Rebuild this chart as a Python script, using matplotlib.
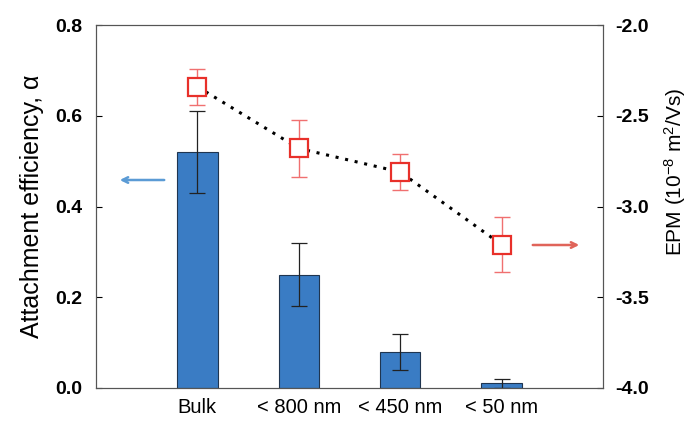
import numpy as np
import matplotlib.pyplot as plt

plt.rcParams['font.family'] = ['Liberation Sans', 'DejaVu Sans']
plt.rcParams['mathtext.fontset'] = 'custom'
plt.rcParams['mathtext.rm'] = 'Liberation Sans'
plt.rcParams['mathtext.it'] = 'Liberation Sans:italic'

categories = ['Bulk', '< 800 nm', '< 450 nm', '< 50 nm']
alpha_vals = [0.52, 0.25, 0.08, 0.01]
alpha_err = [0.09, 0.07, 0.04, 0.01]
epm_vals = [-2.34, -2.68, -2.81, -3.21]
epm_err = [0.10, 0.155, 0.10, 0.15]
left_ticks = [0.0, 0.2, 0.4, 0.6, 0.8]
right_ticks = [-4.0, -3.5, -3.0, -2.5, -2.0]

fig = plt.figure(figsize=(6.88, 4.21), dpi=100)
ax = fig.add_axes([96 / 688, 1 - 388 / 421, (603 - 96) / 688, (388 - 25) / 421])
x = np.arange(len(categories))

ax.bar(x, alpha_vals, width=0.4, color='#3a7cc4', edgecolor='#1f3550', linewidth=0.8,
       yerr=alpha_err, error_kw=dict(ecolor='#222222', elinewidth=0.9, capsize=6, capthick=0.9),
       zorder=2)
ax.set_xlim(-1, 4)
ax.set_ylim(0, 0.8)
ax.set_yticks(left_ticks)
ax.set_yticklabels([f'{t:.1f}' for t in left_ticks], fontweight='bold', fontsize=14)
ax.set_xticks(x)
ax.set_xticklabels(categories, fontsize=14.5)
ax.tick_params(axis='x', length=0, pad=7)
ax.tick_params(axis='y', direction='in', length=4, pad=10)
ax.set_ylabel('Attachment efficiency, α', fontsize=18, labelpad=8)
for s in ax.spines.values():
    s.set_color('#555555')
    s.set_linewidth(0.8)

ax2 = ax.twinx()
ax2.errorbar(x, epm_vals, yerr=epm_err, fmt='none', ecolor='#f07070', elinewidth=1.0,
             capsize=6, capthick=1.0, zorder=3)
ax2.plot(x, epm_vals, linestyle=(0, (1, 2.2)), color='black', linewidth=2.2, zorder=3)
ax2.plot(x, epm_vals, linestyle='none', marker='s', markersize=12.5, markerfacecolor='white',
         markeredgecolor='#e8302a', markeredgewidth=1.6, zorder=4)
ax2.set_ylim(-4.0, -2.0)
ax2.set_yticks(right_ticks)
ax2.set_yticklabels([f'{t:.1f}' for t in right_ticks], fontweight='bold', fontsize=14)
ax2.tick_params(axis='y', direction='in', length=4, pad=9)
ax2.set_ylabel('EPM (10$^{\\mathrm{-8}}$ m$^{\\mathrm{2}}$/Vs)', fontsize=15)
ax2.yaxis.set_label_coords(1.116, 0.595)
for s in ax2.spines.values():
    s.set_color('#555555')
    s.set_linewidth(0.8)

# arrows pointing to the axes
ax.annotate('', xy=(117 / 688, 1 - 180 / 421), xytext=(167 / 688, 1 - 180 / 421),
            xycoords='figure fraction',
            arrowprops=dict(arrowstyle='->', color='#5b9bd5', lw=1.8))
ax.annotate('', xy=(582 / 688, 1 - 245 / 421), xytext=(530 / 688, 1 - 245 / 421),
            xycoords='figure fraction',
            arrowprops=dict(arrowstyle='->', color='#e0645a', lw=1.8))

fig.savefig('out.png', dpi=100)
